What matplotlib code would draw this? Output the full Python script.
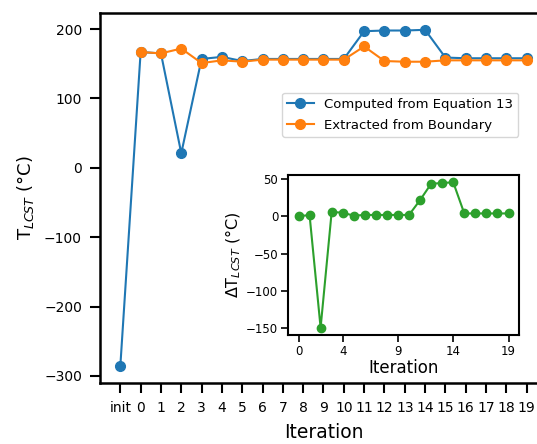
import numpy as np
import matplotlib
matplotlib.use("Agg")
import matplotlib.pyplot as plt

# x etiketleri
etiketler = ["init"] + [str(i) for i in range(20)]

# Equation 13 ile hesaplanan
hesaplanan = [-286, 167, 165, 21, 157, 160, 154, 157, 157, 157, 157, 157,
              197, 198, 198, 199, 159, 158, 158, 158, 158]

# sinirdan cikarilan (init yok)
cikarilan = [167, 165, 172, 151, 155, 153, 156, 156, 156, 156, 156,
             175, 154, 153, 153, 155, 155, 155, 155, 155]

# inset: fark
fark = [0, 2, -150, 6, 5, 1, 2, 2, 2, 2, 2, 22, 44, 45, 46, 4, 4, 4, 4, 4]
inset_tick = [0, 4, 9, 14, 19]

W, H = 537, 444
fig = plt.figure(figsize=(W / 100, H / 100), dpi=100)

ax = fig.add_axes([100 / W, 1 - 383 / H, 447 / W, 370 / H])
x = np.arange(len(etiketler))
ax.plot(x, hesaplanan, "-o", color="#1f77b4", lw=1.5, ms=7,
        label="Computed from Equation 13")
ax.plot(x[1:], cikarilan, "-o", color="#ff7f0e", lw=1.5, ms=7,
        label="Extracted from Boundary")
ax.set_xticks(x)
ax.set_xticklabels(etiketler)
ax.set_yticks([-300, -200, -100, 0, 100, 200])
ax.tick_params(direction="out", length=7, width=1.5, pad=6, labelsize=10)
for s in ax.spines.values():
    s.set_linewidth(1.8)
ax.set_xlabel("Iteration", fontsize=13.5, labelpad=6)
ax.set_ylabel(r"T$_{LCST}$ (°C)", fontsize=13, labelpad=6)
ax.legend(loc="upper right", bbox_to_anchor=(525 / W, 1 - 86 / H),
          bbox_transform=fig.transFigure, fontsize=9.5, frameon=True,
          handlelength=2.0, labelspacing=0.6)

# INSET
ax2 = fig.add_axes([288 / W, 1 - 335 / H, 231 / W, 160 / H])
x2 = np.arange(len(fark))
ax2.plot(x2, fark, "-o", color="#2ca02c", lw=1.5, ms=6)
ax2.set_xticks(inset_tick)
ax2.set_yticks([-150, -100, -50, 0, 50])
ax2.tick_params(direction="out", length=5, width=1.2, pad=2, labelsize=8.5)
for s in ax2.spines.values():
    s.set_linewidth(1.5)
ax2.set_xlabel("Iteration", fontsize=12, labelpad=1)
ax2.set_ylabel(r"$\Delta$T$_{LCST}$ (°C)", fontsize=11.5, labelpad=2)

fig.savefig("out.png", dpi=100)
